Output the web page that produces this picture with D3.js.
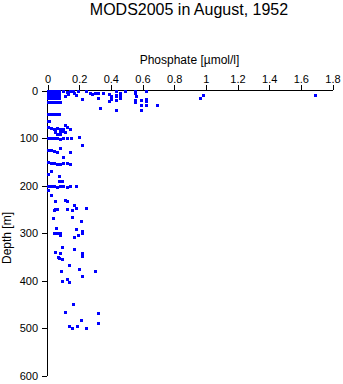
<!DOCTYPE html>
<html><head><meta charset="utf-8">
<script src="https://cdn.jsdelivr.net/npm/d3@7"></script>
<style>
html,body{margin:0;padding:0;background:#fff;}
svg{display:block;font-family:"Liberation Sans",Arial,sans-serif;}
</style></head>
<body>
<svg id="c" width="343" height="384"></svg>
<script>
const title = "MODS2005 in August, 1952";
const xLabel = "Phosphate [\u00b5mol/l]";
const yLabel = "Depth [m]";
const xTicks = [0,0.2,0.4,0.6,0.8,1,1.2,1.4,1.6,1.8];
const yTicks = [0,100,200,300,400,500,600];

// phosphate values (µmol/l) and matching depths (m)
const phosphate = [
 0,0.01,0.02,0.03,0.04,0.05,0.06,0.07, 0,0.01,0.02,0.03,0.04,0.05,0.06,0.07,
 0,0.01,0.02,0.03,0.04,0.05,0.06,0.07, 0,0.01,0.02,0.03,0.04,0.05,0.06,0.07,
 0.10,0.12,0.13,0.14,0.11,0.13, 0.16,0.17,0.19,0.18, 0.24,0.22,0.27,0.28,0.30,0.32,0.32,0.35,
 0.39,0.40,0.39,0.43,0.43,0.43,0.33,0.43, 0.40,0.40,0.43,0.43,0.46,0.46,0.46,0.49,
 0.55,0.55,0.55,0.55,0.56,0.59,0.59,0.59,0.62,0.62,0.62,0.62,0.69,0.985,0.96,1.69,
 0,0.01,0.02,0.03,0.04,0.05,0.06,0.08, 0,0.01,0.02,0.03,0.04,0.05,0.06,0.07,
 0,0.01, 0,0.02,0.04,0.06,0.08,0.10,0.12,0.14, 0.11, 0.05,0.08,0.11,
 0.05,0.08,0.10, 0.06,0.08, 0,0.02,0.04,0.06,0.08,0.10,0.12,0.15,0.20, 0.22,
 0.08, 0.02,0.04,0.06, 0.14, 0.10, 0.02,0.04,0.06,0.08,0.10,0.12, 0.14,
 0.02, 0.07, 0.07,0.09, 0,0.02,0.04,0.06,0.08,0.10,0.12,0.14, 0.18,
 0.02, 0.05,0.11,0.12, 0.17, 0.04,0.05,0.06,0.12,0.155,0.18,0.24,
 0.155,0.035,0.21, 0.055,0.18, 0.22,0.22, 0.04,0.06,0.08, 0.08,0.19, 0.17,
 0.09,0.17, 0.05,0.22,0.08, 0.065,0.075,0.09,0.22, 0.135,0.20,0.30,0.085,0.22,0.12,0.09,0.135,
 0.16,0.11,0.32,0.21,0.32,0.135,0.185,0.155,0.245,
 0,0,0,0,0
];
const depth = [
 0,0,0,0,0,0,0,0, 5,5,5,5,5,5,5,5,
 10,10,10,10,10,10,10,10, 15,15,15,15,15,15,15,15,
 2,4,8,0,12,6, 0,6,2,10, 0,17,5,8,6,15,5,6,
 8,15,23,0,12,21,36,40, 12,18,10,21,5,10,15,0,
 0,6,19,25,12,21,31,40,0,17,23,31,31,10,16,10,
 25,25,25,25,25,25,25,25, 50,50,50,50,50,50,50,50,
 65,65, 77,79,80,78,81,80,77,80, 72, 88,87,88,
 84,86,85, 92,92, 99,100,101,100,102,99,100,101,98, 115,
 122, 126,128,130, 130, 140, 153,152,154,155,152,153, 155,
 170, 181, 191,190, 201,200,202,203,200,201,204,202, 201,
 221, 233,231,233, 240, 251,249,250,250,251,247,247,
 267,269,275, 290,292, 296,300, 301,301,301, 305,305, 309,
 330,333, 340,342,343, 350,352,354,349, 368,375,380,381,391,396,401,403,
 450,467,469,484,490,495,495,500,500,
 100,125,150,175,210
];

const W = 343, H = 384;
const x = d3.scaleLinear().domain([0,1.8]).range([47.5,332.5]);
const y = d3.scaleLinear().domain([0,600]).range([90.5,375.5]);
const svg = d3.select("#c");

svg.append("text").attr("x",189).attr("y",15).attr("text-anchor","middle")
  .attr("font-size",16).text(title);
svg.append("text").attr("x",189.5).attr("y",64).attr("text-anchor","middle")
  .attr("font-size",12).text(xLabel);
svg.append("text").attr("transform","translate(11,238) rotate(-90)")
  .attr("text-anchor","middle").attr("font-size",12).text(yLabel);

const xa = svg.append("g").attr("transform","translate(0,90)")
  .call(d3.axisTop(x).tickValues(xTicks).tickFormat(d=>String(d)).tickSize(5).tickSizeOuter(0).tickPadding(2));
const ya = svg.append("g").attr("transform","translate(47,0)")
  .call(d3.axisLeft(y).tickValues(yTicks).tickSize(5).tickSizeOuter(0).tickPadding(4));
[xa,ya].forEach(g=>{
  g.selectAll("text").attr("font-size",11).attr("font-family","Liberation Sans, Arial, sans-serif").attr("fill","#000");
  g.selectAll("line,path").attr("stroke","#000").attr("shape-rendering","crispEdges");
});

svg.append("g").selectAll("rect").data(d3.range(phosphate.length)).join("rect")
  .attr("x",i=>Math.round(x(phosphate[i]))-1)
  .attr("y",i=>Math.round(y(depth[i]))-1)
  .attr("width",3).attr("height",3)
  .attr("fill","#0000ff");
</script>
</body></html>
